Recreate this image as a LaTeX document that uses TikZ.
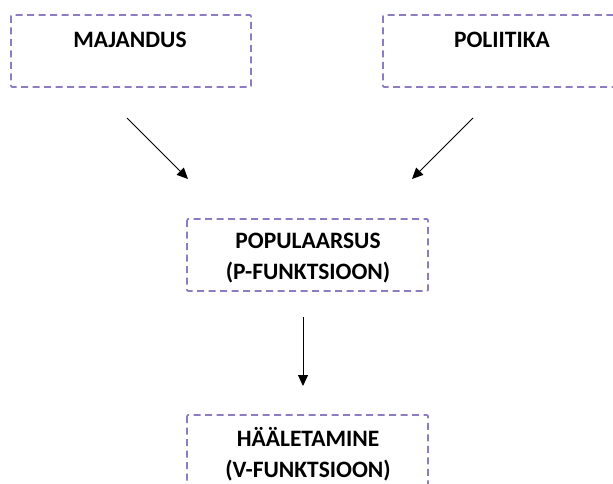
\documentclass[tikz,border=0pt]{standalone}
\usepackage{fontspec}
\setmainfont{Carlito}
\usetikzlibrary{arrows.meta}
\definecolor{boxpurple}{HTML}{8E7CC3}
\begin{document}
\begin{tikzpicture}[x=1pt,y=-1pt,
  dbox/.style={draw=boxpurple,line width=1.6pt,dash pattern=on 7pt off 4.5pt,rounded corners=1pt},
  lbl/.style={font=\bfseries\fontsize{23.5}{31}\selectfont,align=center,inner sep=0pt},
  arr/.style={-{Triangle[length=11pt,width=10pt]},line width=1pt}]
\useasboundingbox (0,0) rectangle (613,484);
\begin{scope}
\clip (0,0) rectangle (613,484);
\draw[dbox] (11,15) rectangle (251,87);
\draw[dbox] (383,15) rectangle (623,87);
\draw[dbox] (187,219) rectangle (428,291);
\draw[dbox] (187,415) rectangle (428,487);
\end{scope}
\node[lbl] (maj) at (130,40) {MAJANDUS};
\node[lbl] (pol) at (502,40) {POLIITIKA};
\node[lbl] (pop) at (308,258) {POPULAARSUS\\(P-FUNKTSIOON)};
\node[lbl] (haal) at (308,454) {HÄÄLETAMINE\\(V-FUNKTSIOON)};
\coordinate (a1s) at (127,118); \coordinate (a1e) at (188,179);
\coordinate (a2s) at (473,118); \coordinate (a2e) at (412,179);
\coordinate (a3s) at (303,317); \coordinate (a3e) at (303,386);
\draw[arr] (a1s) -- (a1e);
\draw[arr] (a2s) -- (a2e);
\draw[arr] (a3s) -- (a3e);
\end{tikzpicture}
\end{document}
